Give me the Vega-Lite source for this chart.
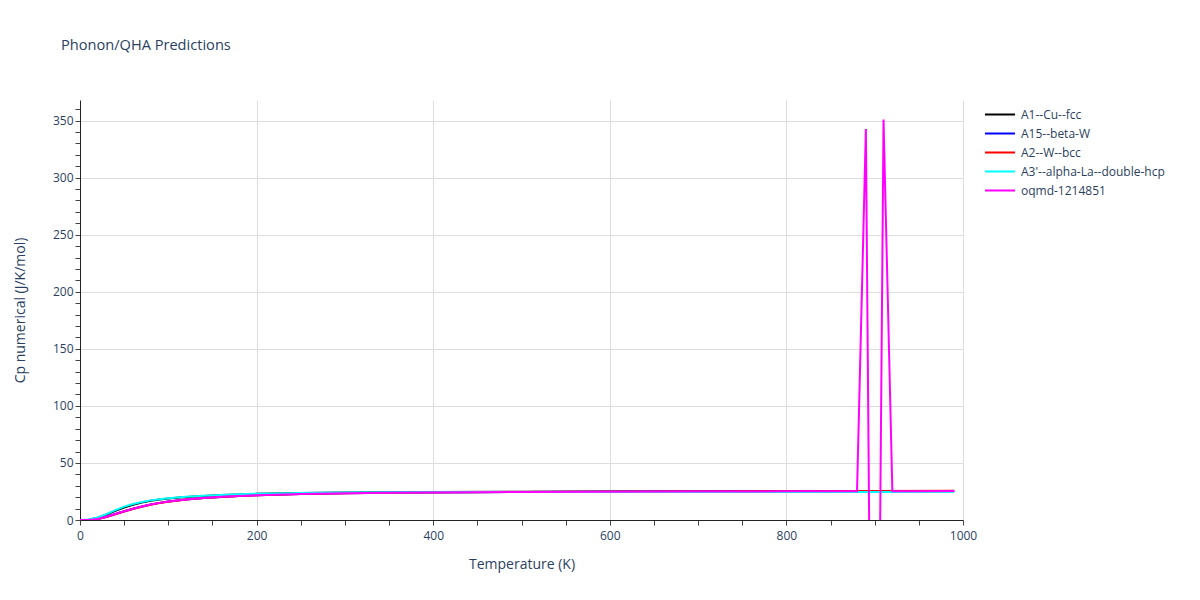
{
  "$schema": "https://vega.github.io/schema/vega-lite/v6.json",
  "autosize": {"type": "none"},
  "width": 883,
  "height": 420,
  "padding": {"left": 80, "top": 100, "right": 237, "bottom": 80},
  "background": "white",
  "title": {"text": "Phonon/QHA Predictions", "anchor": "start", "frame": "group", "dx": -19, "offset": 47, "font": "Open Sans", "fontSize": 14.6, "fontWeight": "normal", "color": "#2a3f5f"},
  "config": {"view": {"stroke": null}},
  "datasets": {
    "d": [
      {"s":"A1--Cu--fcc","T":0,"Cp":0},{"s":"A1--Cu--fcc","T":10,"Cp":0.3},{"s":"A1--Cu--fcc","T":20,"Cp":1.9},{"s":"A1--Cu--fcc","T":30,"Cp":4.8},{"s":"A1--Cu--fcc","T":40,"Cp":8.0},{"s":"A1--Cu--fcc","T":50,"Cp":11.0},{"s":"A1--Cu--fcc","T":60,"Cp":13.4},{"s":"A1--Cu--fcc","T":70,"Cp":15.3},{"s":"A1--Cu--fcc","T":80,"Cp":16.8},{"s":"A1--Cu--fcc","T":90,"Cp":17.9},{"s":"A1--Cu--fcc","T":100,"Cp":18.8},{"s":"A1--Cu--fcc","T":120,"Cp":20.2},{"s":"A1--Cu--fcc","T":140,"Cp":21.1},{"s":"A1--Cu--fcc","T":160,"Cp":21.8},{"s":"A1--Cu--fcc","T":180,"Cp":22.4},{"s":"A1--Cu--fcc","T":200,"Cp":22.9},{"s":"A1--Cu--fcc","T":250,"Cp":23.6},{"s":"A1--Cu--fcc","T":300,"Cp":24.0},{"s":"A1--Cu--fcc","T":350,"Cp":24.3},{"s":"A1--Cu--fcc","T":400,"Cp":24.5},{"s":"A1--Cu--fcc","T":500,"Cp":24.7},{"s":"A1--Cu--fcc","T":600,"Cp":24.9},{"s":"A1--Cu--fcc","T":700,"Cp":25.0},{"s":"A1--Cu--fcc","T":800,"Cp":25.1},{"s":"A1--Cu--fcc","T":900,"Cp":25.2},{"s":"A1--Cu--fcc","T":990,"Cp":25.3},
      {"s":"A15--beta-W","T":0,"Cp":0},{"s":"A15--beta-W","T":10,"Cp":0.1},{"s":"A15--beta-W","T":20,"Cp":0.9},{"s":"A15--beta-W","T":30,"Cp":2.9},{"s":"A15--beta-W","T":40,"Cp":5.3},{"s":"A15--beta-W","T":50,"Cp":7.7},{"s":"A15--beta-W","T":60,"Cp":9.9},{"s":"A15--beta-W","T":70,"Cp":11.9},{"s":"A15--beta-W","T":80,"Cp":13.6},{"s":"A15--beta-W","T":90,"Cp":15.0},{"s":"A15--beta-W","T":100,"Cp":16.2},{"s":"A15--beta-W","T":120,"Cp":18.0},{"s":"A15--beta-W","T":140,"Cp":19.3},{"s":"A15--beta-W","T":160,"Cp":20.2},{"s":"A15--beta-W","T":180,"Cp":21.0},{"s":"A15--beta-W","T":200,"Cp":21.6},{"s":"A15--beta-W","T":250,"Cp":22.7},{"s":"A15--beta-W","T":300,"Cp":23.4},{"s":"A15--beta-W","T":350,"Cp":23.8},{"s":"A15--beta-W","T":400,"Cp":24.1},{"s":"A15--beta-W","T":500,"Cp":24.5},{"s":"A15--beta-W","T":600,"Cp":24.8},{"s":"A15--beta-W","T":700,"Cp":25.0},{"s":"A15--beta-W","T":800,"Cp":25.2},{"s":"A15--beta-W","T":900,"Cp":25.4},{"s":"A15--beta-W","T":990,"Cp":25.5},
      {"s":"A2--W--bcc","T":0,"Cp":0},{"s":"A2--W--bcc","T":10,"Cp":0.1},{"s":"A2--W--bcc","T":20,"Cp":0.8},{"s":"A2--W--bcc","T":30,"Cp":2.7},{"s":"A2--W--bcc","T":40,"Cp":5.1},{"s":"A2--W--bcc","T":50,"Cp":7.4},{"s":"A2--W--bcc","T":60,"Cp":9.6},{"s":"A2--W--bcc","T":70,"Cp":11.6},{"s":"A2--W--bcc","T":80,"Cp":13.3},{"s":"A2--W--bcc","T":90,"Cp":14.8},{"s":"A2--W--bcc","T":100,"Cp":16.0},{"s":"A2--W--bcc","T":120,"Cp":17.9},{"s":"A2--W--bcc","T":140,"Cp":19.2},{"s":"A2--W--bcc","T":160,"Cp":20.2},{"s":"A2--W--bcc","T":180,"Cp":21.0},{"s":"A2--W--bcc","T":200,"Cp":21.6},{"s":"A2--W--bcc","T":250,"Cp":22.7},{"s":"A2--W--bcc","T":300,"Cp":23.4},{"s":"A2--W--bcc","T":350,"Cp":23.8},{"s":"A2--W--bcc","T":400,"Cp":24.1},{"s":"A2--W--bcc","T":500,"Cp":24.5},{"s":"A2--W--bcc","T":600,"Cp":24.8},{"s":"A2--W--bcc","T":700,"Cp":25.0},{"s":"A2--W--bcc","T":800,"Cp":25.2},{"s":"A2--W--bcc","T":900,"Cp":25.4},{"s":"A2--W--bcc","T":990,"Cp":25.6},
      {"s":"A3'--alpha-La--double-hcp","T":0,"Cp":0},{"s":"A3'--alpha-La--double-hcp","T":10,"Cp":0.4},{"s":"A3'--alpha-La--double-hcp","T":20,"Cp":2.2},{"s":"A3'--alpha-La--double-hcp","T":30,"Cp":5.2},{"s":"A3'--alpha-La--double-hcp","T":40,"Cp":8.6},{"s":"A3'--alpha-La--double-hcp","T":50,"Cp":11.7},{"s":"A3'--alpha-La--double-hcp","T":60,"Cp":14.0},{"s":"A3'--alpha-La--double-hcp","T":70,"Cp":15.8},{"s":"A3'--alpha-La--double-hcp","T":80,"Cp":17.2},{"s":"A3'--alpha-La--double-hcp","T":90,"Cp":18.2},{"s":"A3'--alpha-La--double-hcp","T":100,"Cp":19.0},{"s":"A3'--alpha-La--double-hcp","T":120,"Cp":20.3},{"s":"A3'--alpha-La--double-hcp","T":140,"Cp":21.2},{"s":"A3'--alpha-La--double-hcp","T":160,"Cp":21.9},{"s":"A3'--alpha-La--double-hcp","T":180,"Cp":22.5},{"s":"A3'--alpha-La--double-hcp","T":200,"Cp":23.0},{"s":"A3'--alpha-La--double-hcp","T":250,"Cp":23.7},{"s":"A3'--alpha-La--double-hcp","T":300,"Cp":24.1},{"s":"A3'--alpha-La--double-hcp","T":350,"Cp":24.3},{"s":"A3'--alpha-La--double-hcp","T":400,"Cp":24.4},{"s":"A3'--alpha-La--double-hcp","T":500,"Cp":24.5},{"s":"A3'--alpha-La--double-hcp","T":600,"Cp":24.6},{"s":"A3'--alpha-La--double-hcp","T":700,"Cp":24.6},{"s":"A3'--alpha-La--double-hcp","T":800,"Cp":24.6},{"s":"A3'--alpha-La--double-hcp","T":900,"Cp":24.5},{"s":"A3'--alpha-La--double-hcp","T":990,"Cp":24.7},
      {"s":"oqmd-1214851","T":0,"Cp":0},{"s":"oqmd-1214851","T":10,"Cp":0.1},{"s":"oqmd-1214851","T":20,"Cp":0.9},{"s":"oqmd-1214851","T":30,"Cp":2.9},{"s":"oqmd-1214851","T":40,"Cp":5.3},{"s":"oqmd-1214851","T":50,"Cp":7.6},{"s":"oqmd-1214851","T":60,"Cp":9.8},{"s":"oqmd-1214851","T":70,"Cp":11.8},{"s":"oqmd-1214851","T":80,"Cp":13.5},{"s":"oqmd-1214851","T":90,"Cp":15.0},{"s":"oqmd-1214851","T":100,"Cp":16.2},{"s":"oqmd-1214851","T":120,"Cp":18.0},{"s":"oqmd-1214851","T":140,"Cp":19.3},{"s":"oqmd-1214851","T":160,"Cp":20.3},{"s":"oqmd-1214851","T":180,"Cp":21.0},{"s":"oqmd-1214851","T":200,"Cp":21.6},{"s":"oqmd-1214851","T":250,"Cp":22.7},{"s":"oqmd-1214851","T":300,"Cp":23.4},{"s":"oqmd-1214851","T":350,"Cp":23.8},{"s":"oqmd-1214851","T":400,"Cp":24.1},{"s":"oqmd-1214851","T":500,"Cp":24.5},{"s":"oqmd-1214851","T":600,"Cp":24.8},{"s":"oqmd-1214851","T":700,"Cp":25.0},{"s":"oqmd-1214851","T":800,"Cp":25.1},{"s":"oqmd-1214851","T":870,"Cp":25.2},{"s":"oqmd-1214851","T":880,"Cp":25.2},{"s":"oqmd-1214851","T":890,"Cp":342.5},{"s":"oqmd-1214851","T":900,"Cp":-580},{"s":"oqmd-1214851","T":910,"Cp":351},{"s":"oqmd-1214851","T":920,"Cp":25.3},{"s":"oqmd-1214851","T":950,"Cp":25.3},{"s":"oqmd-1214851","T":990,"Cp":25.4}
    ]
  },
  "data": {"name": "d"},
  "mark": {"type": "line", "strokeWidth": 2, "clip": true},
  "encoding": {
    "x": {
      "field": "T", "type": "quantitative",
      "scale": {"domain": [0, 1000], "nice": false, "zero": false},
      "axis": {
        "title": "Temperature (K)",
        "format": "d",
        "values": [0,50,100,150,200,250,300,350,400,450,500,550,600,650,700,750,800,850,900,950,1000],
        "labelExpr": "datum.value % 200 === 0 ? datum.label : ''",
        "gridColor": "#dddddd",
        "gridOpacity": {"condition": {"test": "datum.value % 200 === 0", "value": 1}, "value": 0},
        "domainColor": "#222222", "tickColor": "#444444", "tickSize": 5,
        "labelFont": "Open Sans", "labelFontSize": 12, "labelColor": "#2a3f5f", "labelPadding": 5,
        "labelFlush": false, "labelOverlap": false,
        "titleFont": "Open Sans", "titleFontSize": 14, "titleFontWeight": "normal", "titleColor": "#2a3f5f", "titlePadding": 16
      }
    },
    "y": {
      "field": "Cp", "type": "quantitative",
      "scale": {"domain": [0, 368], "nice": false, "zero": false},
      "axis": {
        "title": "Cp numerical (J/K/mol)",
        "values": [0,10,20,30,40,50,60,70,80,90,100,110,120,130,140,150,160,170,180,190,200,210,220,230,240,250,260,270,280,290,300,310,320,330,340,350,360],
        "labelExpr": "datum.value % 50 === 0 ? datum.label : ''",
        "gridColor": "#dddddd",
        "gridOpacity": {"condition": {"test": "datum.value % 50 === 0 && datum.value > 0", "value": 1}, "value": 0},
        "domainColor": "#222222", "tickColor": "#444444", "tickSize": 5,
        "labelFont": "Open Sans", "labelFontSize": 12, "labelColor": "#2a3f5f", "labelPadding": 2,
        "labelFlush": false, "labelOverlap": false,
        "titleFont": "Open Sans", "titleFontSize": 14, "titleFontWeight": "normal", "titleColor": "#2a3f5f", "titlePadding": 25
      }
    },
    "color": {
      "field": "s", "type": "nominal",
      "scale": {
        "domain": ["A1--Cu--fcc", "A15--beta-W", "A2--W--bcc", "A3'--alpha-La--double-hcp", "oqmd-1214851"],
        "range": ["#000000", "#0000ff", "#ff0000", "#00ffff", "#ff00ff"]
      },
      "legend": {
        "title": null, "orient": "none", "legendX": 904, "legendY": 5,
        "symbolType": "M-1,0L1,0", "symbolSize": 900, "symbolStrokeWidth": 2,
        "labelFont": "Open Sans", "labelFontSize": 12, "labelColor": "#2a3f5f",
        "labelOffset": 5, "rowPadding": 0, "clipHeight": 19, "labelLimit": 300
      }
    }
  }
}
